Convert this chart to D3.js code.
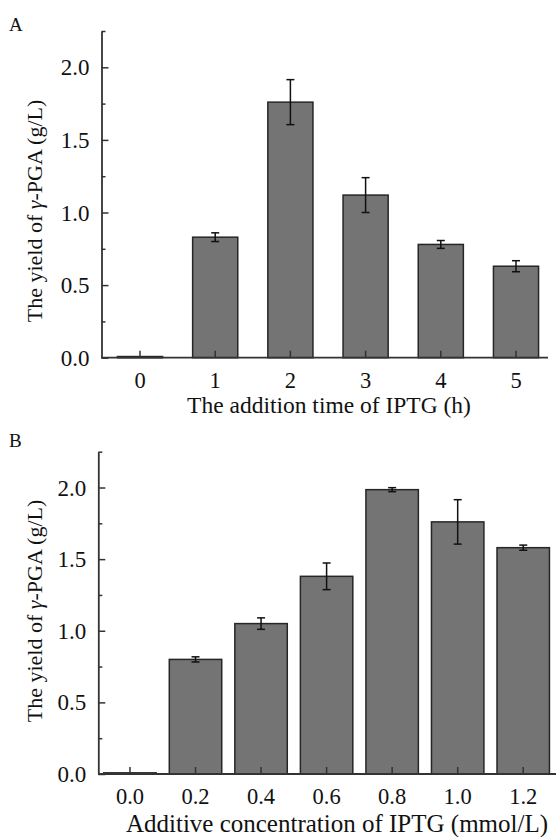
<!DOCTYPE html>
<html>
<head>
<meta charset="utf-8">
<script src="https://cdn.jsdelivr.net/npm/d3@7"></script>
<style>
  html, body { margin: 0; padding: 0; background: #fff; }
  svg { display: block; }
  text { font-family: "Liberation Serif", "Times New Roman", serif; fill: #111; }
</style>
</head>
<body>
<svg id="chart" width="556" height="837"></svg>
<script>
// Panel A: yield vs. IPTG addition time
const timeLabels = ["0", "1", "2", "3", "4", "5"];
const timeYield  = [0.008, 0.83, 1.76, 1.12, 0.78, 0.63];
const timeErr    = [0, 0.03, 0.155, 0.12, 0.027, 0.038];

// Panel B: yield vs. IPTG concentration
const concLabels = ["0.0", "0.2", "0.4", "0.6", "0.8", "1.0", "1.2"];
const concYield  = [0.008, 0.80, 1.05, 1.38, 1.985, 1.76, 1.58];
const concErr    = [0, 0.018, 0.04, 0.093, 0.014, 0.155, 0.018];

// Shared y ticks
const yMajorTicks = [0, 0.5, 1.0, 1.5, 2.0];
const yMinorTicks = [0.25, 0.75, 1.25, 1.75, 2.25];
const yMax = 2.25;

const svg = d3.select("#chart");
const AXIS = "#333";
const BAR_FILL = "#747474";
const BAR_STROKE = "#262626";
const FONT = "Liberation Serif, Times New Roman, serif";

function drawPanel(cfg) {
  const g = svg.append("g");
  const y = d3.scaleLinear().domain([0, yMax]).range([cfg.y0, cfg.yTop]);
  const x = d3.scaleBand().domain(cfg.labels).range(cfg.xRange)
    .paddingInner(cfg.padInner).paddingOuter(cfg.padOuter);

  // bars
  g.selectAll("rect.bar").data(cfg.values).enter().append("rect")
    .attr("class", "bar")
    .attr("x", (d, i) => x(cfg.labels[i]))
    .attr("width", x.bandwidth())
    .attr("y", d => y(d))
    .attr("height", d => Math.max(0, y(0) - y(d)))
    .attr("fill", BAR_FILL)
    .attr("stroke", BAR_STROKE)
    .attr("stroke-width", 1.5);

  // error bars
  const eb = g.selectAll("g.err")
    .data(cfg.values.map((v, i) => ({v, e: cfg.err[i], k: cfg.labels[i]})).filter(d => d.e > 0))
    .enter().append("g").attr("class", "err")
    .attr("stroke", "#111").attr("stroke-width", 1.5);
  const cx = d => x(d.k) + x.bandwidth() / 2;
  eb.append("line").attr("x1", cx).attr("x2", cx)
    .attr("y1", d => y(d.v + d.e)).attr("y2", d => y(d.v - d.e));
  eb.append("line").attr("x1", d => cx(d) - 4).attr("x2", d => cx(d) + 4)
    .attr("y1", d => y(d.v + d.e)).attr("y2", d => y(d.v + d.e));
  eb.append("line").attr("x1", d => cx(d) - 4).attr("x2", d => cx(d) + 4)
    .attr("y1", d => y(d.v - d.e)).attr("y2", d => y(d.v - d.e));

  // y axis (ticks point inward)
  const yAxis = g.append("g").attr("transform", `translate(${cfg.xAxis},0)`)
    .call(d3.axisLeft(y).tickValues(yMajorTicks).tickFormat(d3.format(".1f"))
      .tickSizeInner(-7).tickSizeOuter(0).tickPadding(12));
  yAxis.selectAll("text").attr("font-size", 23).attr("dy", "0.33em")
    .style("font-family", FONT).attr("fill", "#111");
  const yMinor = g.append("g").attr("transform", `translate(${cfg.xAxis},0)`)
    .call(d3.axisLeft(y).tickValues(yMinorTicks).tickFormat("").tickSize(-4));
  yMinor.select(".domain").remove();
  [yAxis, yMinor].forEach(a => {
    a.selectAll("line").attr("stroke", AXIS).attr("stroke-width", 1.5);
    a.selectAll(".domain").attr("stroke", AXIS).attr("stroke-width", 1.8);
  });

  // x axis (ticks point inward, baseline drawn across full width)
  const xAxis = g.append("g").attr("transform", `translate(0,${cfg.y0})`)
    .call(d3.axisBottom(x).tickSizeInner(-7).tickSizeOuter(0).tickPadding(14));
  xAxis.select(".domain").remove();
  xAxis.selectAll("line").attr("stroke", AXIS).attr("stroke-width", 1.5);
  xAxis.selectAll("text").attr("font-size", 22.5)
    .style("font-family", FONT).attr("fill", "#111");
  g.append("line").attr("x1", cfg.xAxis).attr("x2", cfg.xEnd)
    .attr("y1", cfg.y0).attr("y2", cfg.y0)
    .attr("stroke", AXIS).attr("stroke-width", 1.8);

  // x title
  g.append("text").attr("x", cfg.xTitleX).attr("y", cfg.xTitleY)
    .attr("text-anchor", "middle").attr("font-size", cfg.xTitleSize).text(cfg.xTitle);

  // y title with italic gamma
  const yt = g.append("text")
    .attr("transform", `translate(${cfg.yTitleX},${cfg.yTitleY}) rotate(-90)`)
    .attr("text-anchor", "middle").attr("font-size", 22);
  yt.append("tspan").text("The yield of ");
  yt.append("tspan").attr("font-style", "italic").text("γ");
  yt.append("tspan").text("-PGA (g/L)");

  // panel letter
  g.append("text").attr("x", cfg.letterX).attr("y", cfg.letterY)
    .attr("font-size", 19).text(cfg.letter);
}

drawPanel({
  labels: timeLabels, values: timeYield, err: timeErr,
  y0: 357.7, yTop: 31, xAxis: 101.5, xEnd: 548,
  xRange: [102.4, 553.6], padInner: 0.4, padOuter: 0.2,
  xTitle: "The addition time of IPTG (h)", xTitleX: 329, xTitleY: 413, xTitleSize: 23.5,
  yTitleX: 42, yTitleY: 211,
  letter: "A", letterX: 9, letterY: 31
});

drawPanel({
  labels: concLabels, values: concYield, err: concErr,
  y0: 774, yTop: 451.7, xAxis: 98.3, xEnd: 556,
  xRange: [97.2, 556], padInner: 0.2, padOuter: 0.1,
  xTitle: "Additive concentration of IPTG (mmol/L)", xTitleX: 337, xTitleY: 831.5, xTitleSize: 25,
  yTitleX: 42, yTitleY: 611,
  letter: "B", letterX: 9, letterY: 447
});
</script>
</body>
</html>
